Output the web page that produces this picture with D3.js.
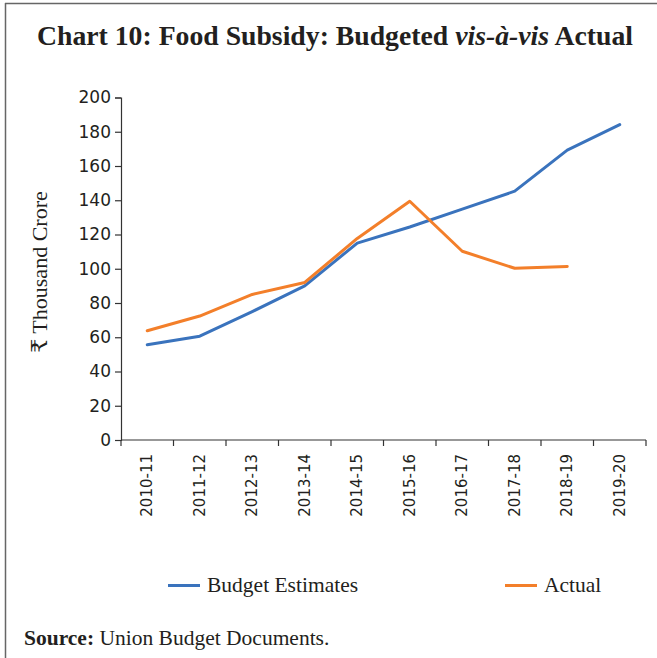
<!DOCTYPE html>
<html>
<head>
<meta charset="utf-8">
<script src="https://cdn.jsdelivr.net/npm/d3@7"></script>
<style>
  html, body { margin: 0; padding: 0; background: #fff; }
  svg { display: block; }
</style>
</head>
<body>
<script>
// Fiscal years on the category axis
const years = ["2010-11", "2011-12", "2012-13", "2013-14", "2014-15",
               "2015-16", "2016-17", "2017-18", "2018-19", "2019-20"];
// Food subsidy, ₹ thousand crore
const budgetEstimates = [55.6, 60.6, 75.0, 90.0, 115.0, 124.4, 134.8, 145.3, 169.3, 184.2];
const actual = [63.8, 72.4, 85.0, 92.0, 117.7, 139.4, 110.2, 100.3, 101.3];
const yTicks = [0, 20, 40, 60, 80, 100, 120, 140, 160, 180, 200];

const W = 657, H = 658;
const svg = d3.select("body").append("svg").attr("width", W).attr("height", H);

const serif = "'Liberation Serif', 'DejaVu Serif', serif";
const sans = "'DejaVu Sans', Verdana, sans-serif";

// Frame: top and left rules
svg.append("line").attr("x1", 5).attr("x2", W).attr("y1", 3.5).attr("y2", 3.5)
  .attr("stroke", "#666").attr("stroke-width", 1.5);
svg.append("line").attr("x1", 5.5).attr("x2", 5.5).attr("y1", 3).attr("y2", H)
  .attr("stroke", "#666").attr("stroke-width", 1.5);

// Title
const title = svg.append("text").attr("x", 335).attr("y", 45)
  .attr("text-anchor", "middle").attr("font-family", serif)
  .attr("font-weight", "bold").attr("font-size", 27).attr("fill", "#231f20")
  .attr("textLength", 596).attr("lengthAdjust", "spacingAndGlyphs");
title.append("tspan").text("Chart 10: Food Subsidy: Budgeted ");
title.append("tspan").attr("font-style", "italic").text("vis-à-vis");
title.append("tspan").text(" Actual");

const x0 = 121, x1 = 646, yTop = 97.5, yBot = 440;

const x = d3.scaleBand().domain(years).range([x0, x1]);
const y = d3.scaleLinear().domain([0, 200]).range([yBot, yTop]);

// Y axis
const yAxis = svg.append("g").attr("transform", `translate(${x0},0)`)
  .call(d3.axisLeft(y).tickValues(yTicks).tickSize(6).tickPadding(4).tickFormat(d3.format("d")));
yAxis.select(".domain").attr("stroke", "#333").attr("stroke-width", 1.2);
yAxis.selectAll(".tick line").attr("stroke", "#333").attr("stroke-width", 1.2);
yAxis.selectAll(".tick text").attr("font-family", sans).attr("font-size", 17).attr("fill", "#231f20");

// X axis: ticks at category boundaries
const xAxisG = svg.append("g").attr("transform", `translate(0,${yBot})`);
xAxisG.append("line").attr("x1", x0).attr("x2", x1).attr("y1", 0).attr("y2", 0)
  .attr("stroke", "#333").attr("stroke-width", 1.2);
const bounds = years.map(d => x(d)).concat([x1]);
xAxisG.selectAll(".bt").data(bounds).join("line").attr("class", "bt")
  .attr("x1", d => d).attr("x2", d => d).attr("y1", 0).attr("y2", 6)
  .attr("stroke", "#333").attr("stroke-width", 1.2);
xAxisG.selectAll(".lbl").data(years).join("text").attr("class", "lbl")
  .attr("transform", d => `translate(${x(d) + x.bandwidth() / 2 + 5},14) rotate(-90)`)
  .attr("text-anchor", "end").attr("font-family", sans).attr("font-size", 15)
  .attr("fill", "#231f20").text(d => d);

// Y axis title
svg.append("text").attr("transform", "translate(47,272) rotate(-90)")
  .attr("text-anchor", "middle").attr("font-family", serif).attr("font-size", 22)
  .attr("fill", "#231f20").text("₹ Thousand Crore");

// Lines
const cx = d => x(d) + x.bandwidth() / 2;
const line = d3.line().x(d => cx(d.year)).y(d => y(d.value));
const series = [
  { name: "Budget Estimates", color: "#3a73bd", values: budgetEstimates },
  { name: "Actual", color: "#f37f2a", values: actual }
];
series.forEach(s => {
  svg.append("path")
    .datum(s.values.map((v, i) => ({ year: years[i], value: v })))
    .attr("d", line).attr("fill", "none").attr("stroke", s.color)
    .attr("stroke-width", 3).attr("stroke-linejoin", "round").attr("stroke-linecap", "round");
});

// Legend
const legendX = [168, 505];
series.forEach((s, i) => {
  const g = svg.append("g").attr("transform", `translate(${legendX[i]},585.5)`);
  g.append("line").attr("x1", 0).attr("x2", 32).attr("y1", 0).attr("y2", 0)
    .attr("stroke", s.color).attr("stroke-width", 3);
  g.append("text").attr("x", 39).attr("y", 6.5).attr("font-family", serif)
    .attr("font-size", 21.5).attr("fill", "#231f20").text(s.name);
});

// Source note
const src = svg.append("text").attr("x", 24).attr("y", 645)
  .attr("font-family", serif).attr("font-size", 21.5).attr("fill", "#231f20");
src.append("tspan").attr("font-weight", "bold").text("Source:");
src.append("tspan").text(" Union Budget Documents.");
</script>
</body>
</html>
